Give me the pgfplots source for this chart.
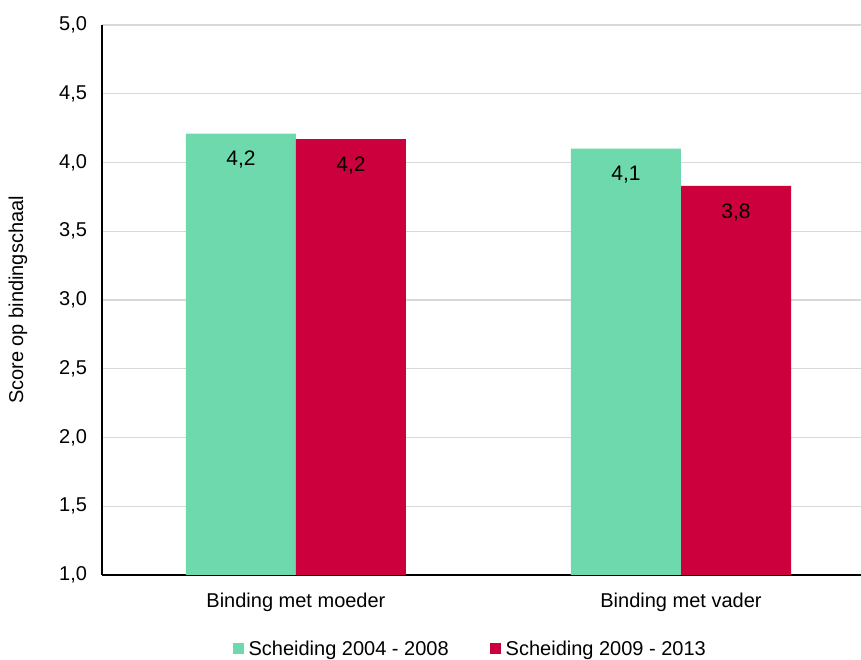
\documentclass[border=0pt]{standalone}
\usepackage{fontspec}
\setmainfont{Liberation Sans}
\usepackage{pgfplots}
\pgfplotsset{compat=1.18}
\definecolor{mint}{HTML}{6FD9AE}
\definecolor{crimson}{HTML}{CC003C}
\newcommand{\bigf}{\fontsize{20}{24}\selectfont}
\begin{document}
\begin{tikzpicture}
\useasboundingbox (0pt,0pt) rectangle (861pt,660pt);
\begin{axis}[
    at={(101.5pt,85pt)}, anchor=south west,
    scale only axis, width=759.5pt, height=550pt,
    ybar, bar width=0.2857,
    xmin=-0.505, xmax=1.4675,
    ymin=1, ymax=5, ytick={1,1.5,...,5},
    xtick={0,1}, xticklabels={Binding met moeder, Binding met vader},
    major tick length=0pt,
    axis x line*=bottom, axis y line*=left,
    axis line style={black, line width=2pt, -},
    ymajorgrids, grid style={color=black!15, line width=1.3pt},
    tick label style={font=\bigf},
    y tick label style={xshift=-11pt, /pgf/number format/.cd, fixed, fixed zerofill, precision=1, use comma, assume math mode=true},
    x tick label style={yshift=-14pt},
    ylabel={Score op bindingschaal},
    ylabel style={at={(axis description cs:-0.11,0.5)}, anchor=center, font=\bigf},
    point meta=y,
    nodes near coords={\pgfmathprintnumber[fixed, precision=1, use comma, assume math mode=true]{\pgfplotspointmeta}},
    every node near coord/.append style={anchor=north, yshift=-14pt, font=\fontsize{21}{25}\selectfont, black},
    legend style={at={(axis description cs:0.4855,-0.1345)}, anchor=center, draw=none, fill=none,
        legend columns=2, font=\bigf,
        /tikz/every odd column/.append style={column sep=3pt},
        /tikz/every even column/.append style={column sep=39pt}},
    legend image code/.code={\fill[#1] (0pt,-5.5pt) rectangle (11pt,5.5pt);},
]
\addplot+[fill=mint, draw=none, bar shift=0pt] coordinates {(-0.1429, 4.21) (0.8571, 4.10)};
\addlegendentry{Scheiding 2004 - 2008}
\addplot+[fill=crimson, draw=none, bar shift=0pt] coordinates {(0.1429, 4.17) (1.1429, 3.83)};
\addlegendentry{Scheiding 2009 - 2013}
\end{axis}
\end{tikzpicture}
\end{document}
